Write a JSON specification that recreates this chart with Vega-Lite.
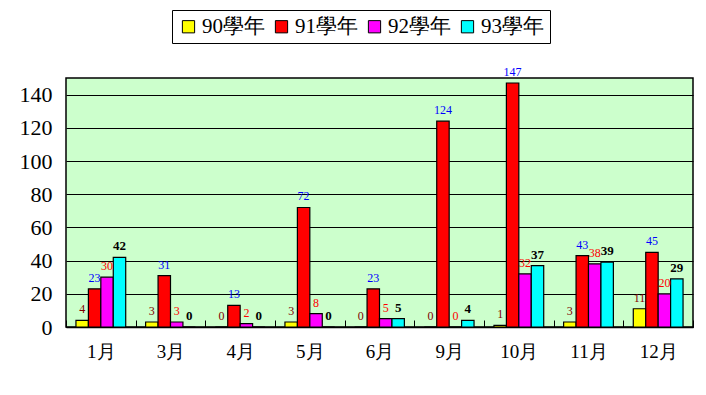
{
  "$schema": "https://vega.github.io/schema/vega-lite/v6.json",
  "width": 627,
  "height": 249,
  "autosize": {"type": "none"},
  "padding": {"left": 66, "top": 78, "right": 13, "bottom": 68},
  "background": "white",
  "config": {
    "view": {"fill": "#CCFFCC", "stroke": "black", "strokeWidth": 1.5},
    "font": "Liberation Serif",
    "axis": {"labelFont": "Liberation Serif"},
    "legend": {"labelFont": "Liberation Serif"}
  },
  "data": {
    "values": [
      {"month": "1月", "year": "90學年", "value": 4},
      {"month": "1月", "year": "91學年", "value": 23},
      {"month": "1月", "year": "92學年", "value": 30},
      {"month": "1月", "year": "93學年", "value": 42},
      {"month": "3月", "year": "90學年", "value": 3},
      {"month": "3月", "year": "91學年", "value": 31},
      {"month": "3月", "year": "92學年", "value": 3},
      {"month": "3月", "year": "93學年", "value": 0},
      {"month": "4月", "year": "90學年", "value": 0},
      {"month": "4月", "year": "91學年", "value": 13},
      {"month": "4月", "year": "92學年", "value": 2},
      {"month": "4月", "year": "93學年", "value": 0},
      {"month": "5月", "year": "90學年", "value": 3},
      {"month": "5月", "year": "91學年", "value": 72},
      {"month": "5月", "year": "92學年", "value": 8},
      {"month": "5月", "year": "93學年", "value": 0},
      {"month": "6月", "year": "90學年", "value": 0},
      {"month": "6月", "year": "91學年", "value": 23},
      {"month": "6月", "year": "92學年", "value": 5},
      {"month": "6月", "year": "93學年", "value": 5},
      {"month": "9月", "year": "90學年", "value": 0},
      {"month": "9月", "year": "91學年", "value": 124},
      {"month": "9月", "year": "92學年", "value": 0},
      {"month": "9月", "year": "93學年", "value": 4},
      {"month": "10月", "year": "90學年", "value": 1},
      {"month": "10月", "year": "91學年", "value": 147},
      {"month": "10月", "year": "92學年", "value": 32},
      {"month": "10月", "year": "93學年", "value": 37},
      {"month": "11月", "year": "90學年", "value": 3},
      {"month": "11月", "year": "91學年", "value": 43},
      {"month": "11月", "year": "92學年", "value": 38},
      {"month": "11月", "year": "93學年", "value": 39},
      {"month": "12月", "year": "90學年", "value": 11},
      {"month": "12月", "year": "91學年", "value": 45},
      {"month": "12月", "year": "92學年", "value": 20},
      {"month": "12月", "year": "93學年", "value": 29}
    ]
  },
  "encoding": {
    "x": {
      "field": "month",
      "type": "nominal",
      "sort": ["1月", "3月", "4月", "5月", "6月", "9月", "10月", "11月", "12月"],
      "scale": {"paddingInner": 0, "paddingOuter": 0},
      "axis": {
        "title": null,
        "labelAngle": 0,
        "labelFont": "Liberation Serif",
        "labelFontSize": 19,
        "labelColor": "black",
        "labelPadding": 22,
        "domainColor": "black",
        "domainWidth": 1.5,
        "tickColor": "black",
        "tickSize": -7,
        "tickBand": "extent",
        "grid": false
      }
    },
    "xOffset": {
      "field": "year",
      "type": "nominal",
      "scale": {"paddingInner": 0, "paddingOuter": 0.8}
    },
    "y": {
      "field": "value",
      "type": "quantitative",
      "scale": {"domain": [0, 150], "nice": false},
      "axis": {
        "title": null,
        "values": [0, 20, 40, 60, 80, 100, 120, 140],
        "labelFont": "Liberation Serif",
        "labelFontSize": 22,
        "labelFontWeight": "normal",
        "labelColor": "black",
        "labelPadding": 14,
        "ticks": false,
        "domain": false,
        "grid": true,
        "gridColor": "black",
        "gridWidth": 1.2,
        "gridOpacity": 1
      }
    }
  },
  "layer": [
    {
      "mark": {"type": "bar", "stroke": "black", "strokeWidth": 1.2},
      "encoding": {
        "color": {
          "field": "year",
          "type": "nominal",
          "scale": {
            "domain": ["90學年", "91學年", "92學年", "93學年"],
            "range": ["#FFFF00", "#FF0000", "#FF00FF", "#00FFFF"]
          },
          "legend": {
            "title": null,
            "orient": "none",
            "direction": "horizontal",
            "legendX": 106,
            "legendY": -68,
            "symbolType": "square",
            "symbolSize": 150,
            "symbolStrokeColor": "black",
            "symbolStrokeWidth": 1,
            "symbolOpacity": 1,
            "labelFont": "Liberation Serif",
            "labelFontSize": 21,
            "labelColor": "black",
            "labelOffset": 3,
            "columnPadding": 6,
            "padding": 6,
            "strokeColor": "black",
            "fillColor": "white"
          }
        }
      }
    },
    {
      "transform": [{"filter": "datum.year !== '93學年'"}],
      "mark": {"type": "text", "baseline": "bottom", "dy": -4, "fontSize": 12, "font": "Liberation Serif"},
      "encoding": {
        "text": {"field": "value", "type": "quantitative"},
        "color": {
          "field": "year",
          "type": "nominal",
          "scale": {
            "domain": ["90學年", "91學年", "92學年", "93學年"],
            "range": ["#800000", "#0000FF", "#FF0000", "#000000"]
          },
          "legend": null
        }
      }
    },
    {
      "transform": [{"filter": "datum.year === '93學年'"}],
      "mark": {"type": "text", "baseline": "bottom", "dy": -4, "fontSize": 13, "fontWeight": "bold", "font": "Liberation Serif", "color": "black"},
      "encoding": {
        "text": {"field": "value", "type": "quantitative"}
      }
    }
  ],
  "resolve": {"scale": {"color": "independent"}}
}
